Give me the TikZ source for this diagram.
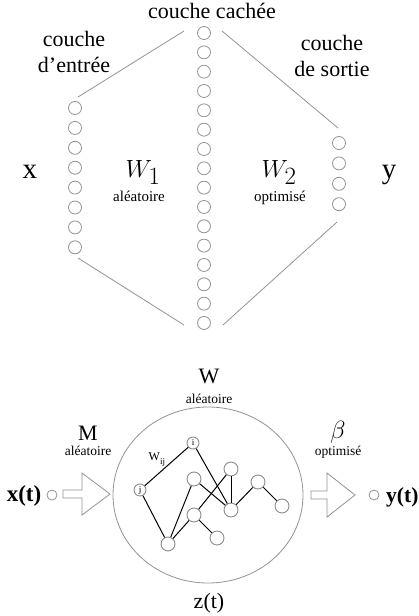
\documentclass[tikz,border=0pt]{standalone}
\usepackage{fontspec}
\setmainfont{Liberation Serif}
\usetikzlibrary{shapes.geometric}
\begin{document}
\begin{tikzpicture}[x=1pt,y=-1pt,
  neuron/.style={circle, draw=gray!85, line width=0.8pt, minimum size=13pt, inner sep=0pt},
  gnode/.style={circle, draw=gray!90, fill=white, line width=0.9pt, minimum size=14pt, inner sep=0pt},
  lnode/.style={circle, draw=gray!90, fill=white, line width=0.9pt, minimum size=12pt, inner sep=0pt, font=\fontsize{9}{9}\selectfont},
  glink/.style={gray!85, line width=0.8pt},
  edge/.style={black, line width=1pt},
  blockarrow/.style={draw=gray!85, line width=0.8pt, fill=white},
  big/.style={anchor=base, inner sep=0pt, font=\fontsize{22}{22}\selectfont},
  huge/.style={anchor=base, inner sep=0pt, font=\fontsize{29}{29}\selectfont},
  small/.style={anchor=base, inner sep=0pt, font=\fontsize{15}{15}\selectfont},
  tiny/.style={anchor=base, inner sep=0pt, font=\fontsize{13.5}{13.5}\selectfont}]
\useasboundingbox (0,0) rectangle (418,616);

% ---------- top: three layers ----------
\foreach \i in {0,...,15} \node[neuron] (h\i) at (204,{33+\i*19.33}) {};
\foreach \i in {0,...,7} \node[neuron] (in\i) at (75,{108+\i*19.9}) {};
\foreach \i in {0,...,3} \node[neuron] (out\i) at (339,{143+\i*20.4}) {};

\coordinate (tl1) at (78,97);   \coordinate (tl2) at (184,31);
\coordinate (tr1) at (222,31);  \coordinate (tr2) at (338,128);
\coordinate (bl1) at (78,258);  \coordinate (bl2) at (184,325);
\coordinate (br1) at (223,325); \coordinate (br2) at (337,222);
\draw[glink] (tl1) -- (tl2);
\draw[glink] (tr1) -- (tr2);
\draw[glink] (bl1) -- (bl2);
\draw[glink] (br1) -- (br2);

\node[big] (lhid) at (212,18) {couche cachée};
\node[big] (lin1) at (74,46.5) {couche};
\node[big] (lin2) at (74,72) {d’entrée};
\node[big] (lout1) at (332,50) {couche};
\node[big] (lout2) at (332,76) {de sortie};
\node[huge] (lx) at (30,178) {x};
\node[huge] (ly) at (389,178) {y};
\node[anchor=base, inner sep=0pt, font=\fontsize{36}{36}\selectfont] (w1) at (143,177) {$W_1$};
\node[anchor=base, inner sep=0pt, font=\fontsize{36}{36}\selectfont] (w2) at (279,177) {$W_2$};
\node[small] (al1) at (139,201.5) {aléatoire};
\node[small] (op1) at (280,201.5) {optimisé};

% ---------- bottom: reservoir ----------
\node[draw=gray!85, line width=0.8pt, ellipse, minimum width=190pt, minimum height=176pt, inner sep=0pt] (res) at (208,495) {};

\node[big] (lW) at (209,383) {W};
\node[tiny] (al2) at (209,403) {aléatoire};
\node[big] (lM) at (88,440) {M};
\node[tiny] (al3) at (88,455) {aléatoire};
\node[anchor=base, inner sep=0pt, font=\fontsize{24}{24}\selectfont] (lb) at (338,438) {$\beta$};
\node[tiny] (op2) at (338,455) {optimisé};
\node[big] (lz) at (209,608) {z(t)};
\node[anchor=base, inner sep=0pt, font=\fontsize{23}{23}\selectfont\bfseries] (lxt) at (24,501) {x(t)};
\node[anchor=base west, inner sep=0pt, font=\fontsize{21.5}{21.5}\selectfont\bfseries] (lyt) at (386,502) {y(t)};

\node[circle, draw=gray!85, line width=0.8pt, minimum size=10pt, inner sep=0pt] (xin) at (52,495) {};
\node[circle, draw=gray!85, line width=0.8pt, minimum size=10pt, inner sep=0pt] (yout) at (374,495) {};

\draw[blockarrow] (63,490) -- (82,490) -- (82,473) -- (110,494) -- (82,515) -- (82,498) -- (63,498) -- cycle;
\draw[blockarrow] (311,491) -- (327,491) -- (327,473) -- (355,495) -- (327,517) -- (327,499) -- (311,499) -- cycle;

% network
\node[lnode] (ni) at (193,443) {i};
\node[lnode] (nj) at (140,490) {j};
\node[gnode] (nA) at (231,469) {};
\node[gnode] (nB) at (194,479) {};
\node[gnode] (nC) at (258,482) {};
\node[gnode] (nD) at (231,510) {};
\node[gnode] (nE) at (282,506) {};
\node[gnode] (nF) at (194,515) {};
\node[gnode] (nG) at (168,544) {};
\node[gnode] (nH) at (217,538) {};

\draw[edge] (nj) -- (ni);
\draw[edge] (ni) -- (nD);
\draw[edge] (nj) -- (nG);
\draw[edge] (nG) -- (nB);
\draw[edge] (nG) -- (nF);
\draw[edge] (nF) -- (nA);
\draw[edge] (nA) -- (nD);
\draw[edge] (nB) -- (nD);
\draw[edge] (nD) -- (nC);
\draw[edge] (nC) -- (nE);
\draw[edge] (nF) -- (nH);

\node[anchor=base west, inner sep=0pt, font=\fontsize{12}{12}\selectfont] (wij) at (148.5,460) {W\raisebox{-4.5pt}{\fontsize{9}{9}\selectfont ij}};
\end{tikzpicture}
\end{document}
